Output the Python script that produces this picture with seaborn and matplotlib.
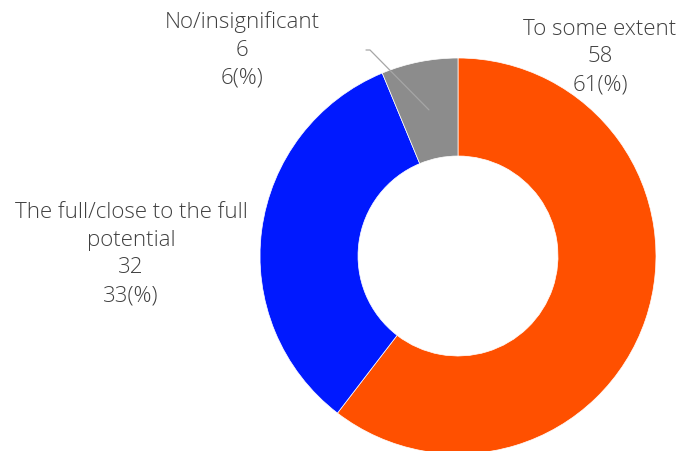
import numpy as np
import matplotlib
matplotlib.use("Agg")
import matplotlib.pyplot as plt
import seaborn as sns

categories = ["To some extent", "The full/close to the full\npotential", "No/insignificant"]
counts = [58, 32, 6]
percents = [61, 33, 6]
colors = ["#FF5000", "#0019FF", "#8C8C8C"]

sns.set_theme(style="white")
plt.rcParams["font.family"] = ["Open Sans", "DejaVu Sans"]

fig = plt.figure(figsize=(6.8, 4.52), dpi=100)
ax = fig.add_axes([0, 0, 1, 1])

cx, cy, R = 458, 195, 198
hole_w = R * 0.495
wedges, _ = ax.pie(counts, colors=colors, startangle=90, counterclock=False,
                   center=(cx, cy), radius=R, frame=True,
                   wedgeprops=dict(width=hole_w, edgecolor="white", linewidth=0.5))
ax.set_xlim(0, 680)
ax.set_ylim(0, 452)
ax.set_aspect("equal")
ax.axis("off")

txt = dict(ha="center", va="center", multialignment="center", fontsize=16,
           color="#404040", fontweight="light", linespacing=1.43)

def label(i):
    return f"{categories[i]}\n{counts[i]}\n{percents[i]}(%)"

ax.text(600, 452 - 57, label(0), **txt)
ax.text(131, 452 - 254, label(1), **txt)
ax.text(242, 452 - 50, label(2), **txt)

# leader line for the small slice
w = wedges[2]
mid = np.deg2rad((w.theta1 + w.theta2) / 2)
rm = R - hole_w / 2
x0, y0 = cx + rm * np.cos(mid), cy + rm * np.sin(mid)
ax.plot([x0, 370, 366], [y0, 452 - 51, 452 - 51], color="#A6A6A6", lw=0.9)

fig.savefig("out.png", dpi=100)
